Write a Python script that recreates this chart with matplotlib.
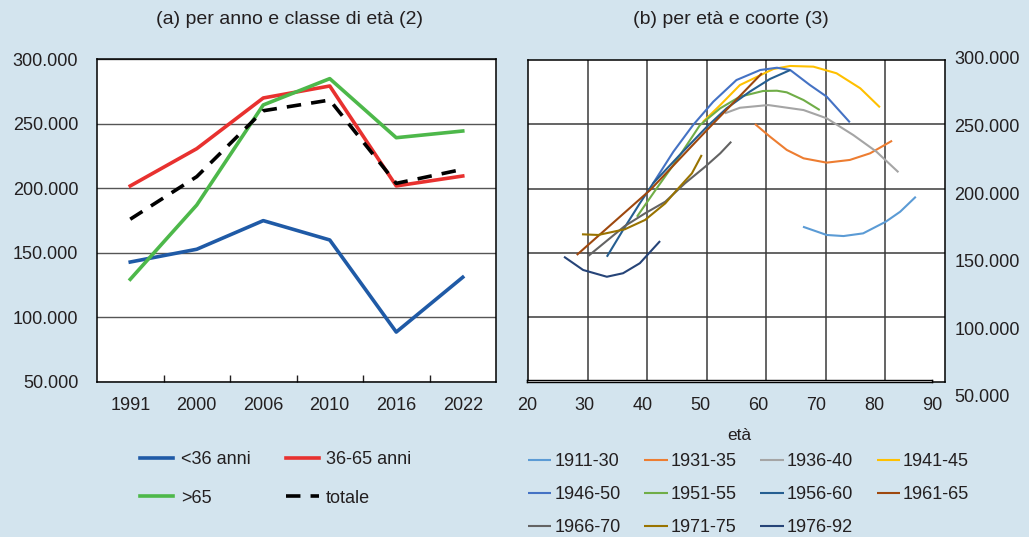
import numpy as np
import matplotlib.pyplot as plt
from matplotlib.ticker import FuncFormatter, FixedLocator

plt.rcParams['font.family'] = ['Liberation Sans', 'DejaVu Sans']
plt.rcParams['text.color'] = '#231f20'
plt.rcParams['xtick.color'] = '#231f20'
plt.rcParams['ytick.color'] = '#231f20'

# (a) per anno e classe di eta'
anni = ['1991', '2000', '2006', '2010', '2016', '2022']
under36 = [142800, 152700, 174900, 159900, 88500, 131000]
da36a65 = [201800, 230700, 270000, 279300, 201800, 209500]
over65 = [129400, 187000, 264600, 285000, 239200, 244400]
totale = [176000, 209000, 260100, 268400, 203800, 214700]

# (b) per eta' e coorte
eta_1911 = [67.7, 71.8, 74.7, 78.1, 82.0, 84.5, 87.2]
val_1911 = [175200, 169100, 168300, 170300, 178900, 186300, 197400]
eta_1931 = [59.4, 62.0, 64.9, 67.8, 71.8, 75.8, 79.3, 83.1]
val_1931 = [251200, 241800, 232000, 225800, 222600, 224600, 229500, 238800]
eta_1936 = [54.2, 56.8, 61.7, 67.8, 71.8, 76.4, 80.4, 84.2]
val_1936 = [259100, 263200, 265200, 261500, 255400, 243000, 230700, 215500]
eta_1941 = [50.4, 53.4, 56.8, 62.6, 65.5, 69.5, 73.5, 77.6, 81.0]
val_1941 = [252700, 265200, 280000, 291900, 294100, 293600, 288700, 277600, 263500]
eta_1946 = [41.8, 45.3, 48.7, 52.2, 56.2, 60.3, 63.2, 65.5, 68.9, 71.8, 75.8]
val_1946 = [207300, 230700, 250400, 267700, 283700, 291100, 292800, 291100, 280000, 271400, 252400]
eta_1951 = [39.0, 42.3, 45.9, 49.9, 53.4, 56.8, 60.8, 63.2, 64.9, 67.8, 70.6]
val_1951 = [182600, 202900, 224600, 250400, 262800, 271400, 275600, 275800, 274600, 268900, 261500]
eta_1956 = [33.8, 36.6, 39.5, 41.8, 46.4, 51.1, 54.5, 58.5, 62.0, 65.5]
val_1956 = [153000, 172800, 192500, 207300, 228300, 249200, 262800, 275100, 284500, 291100]
eta_1961 = [28.6, 33.8, 41.3, 51.1, 60.6]
val_1961 = [154300, 174000, 202400, 246700, 288700]
eta_1966 = [30.6, 36.9, 40.4, 43.9, 47.3, 50.8, 53.4, 55.3]
val_1966 = [153600, 175700, 185100, 193700, 207300, 219600, 229500, 238100]
eta_1971 = [29.5, 32.3, 36.9, 40.4, 43.9, 45.9, 48.5, 50.2]
val_1971 = [169600, 169100, 173300, 180200, 192500, 202400, 214700, 228300]
eta_1976 = [26.4, 29.7, 33.8, 36.6, 39.5, 43.0]
val_1976 = [153000, 143200, 138200, 140800, 148200, 164600]

coorti = ['1911-30', '1931-35', '1936-40', '1941-45', '1946-50', '1951-55',
          '1956-60', '1961-65', '1966-70', '1971-75', '1976-92']
serie_eta = [eta_1911, eta_1931, eta_1936, eta_1941, eta_1946, eta_1951,
             eta_1956, eta_1961, eta_1966, eta_1971, eta_1976]
serie_val = [val_1911, val_1931, val_1936, val_1941, val_1946, val_1951,
             val_1956, val_1961, val_1966, val_1971, val_1976]
colori = ['#5b9bd5', '#ed7d31', '#a5a5a5', '#ffc000', '#4472c4', '#70ad47',
          '#255e91', '#9e480e', '#636363', '#997300', '#264478']

bg = '#d3e4ee'
W, H = 1029, 537


def rect(x0, y0, x1, y1):
    # pixel box (top-left origin) -> figure fraction
    return [x0 / W, 1 - y1 / H, (x1 - x0) / W, (y1 - y0) / H]


def migliaia(v, pos):
    return '{:,.0f}'.format(v).replace(',', '.')


def testo(x, y, s, **kw):
    # text placed in pixels from the top-left corner
    fig.text(x / W, 1 - y / H, s, ha='center', va='center', **kw)


fig = plt.figure(figsize=(W / 100, H / 100), dpi=100)
fig.patch.set_facecolor(bg)

# ---- panel (a)
ax = fig.add_axes(rect(97, 59.3, 496, 381.7))
x = np.arange(len(anni))
l1, = ax.plot(x, under36, color='#1f5aa6', lw=2.6, label='<36 anni', zorder=3)
l2, = ax.plot(x, da36a65, color='#e8312f', lw=2.6, label='36-65 anni', zorder=3)
l3, = ax.plot(x, over65, color='#4db84a', lw=2.6, label='>65', zorder=3)
l4, = ax.plot(x, totale, color='black', lw=2.6, dashes=(4, 2.8), label='totale', zorder=4)
ax.set_xlim(-0.5, len(anni) - 0.5)
ax.set_ylim(50000, 300000)
ax.set_xticks(x)
ax.set_xticklabels(anni)
ax.xaxis.set_minor_locator(FixedLocator(x[:-1] + 0.5))
ax.tick_params(axis='x', which='major', length=0, pad=11, labelsize=13)
ax.tick_params(axis='x', which='minor', direction='in', length=5, width=1)
ax.set_yticks(np.arange(50000, 300001, 50000))
ax.yaxis.set_major_formatter(FuncFormatter(migliaia))
ax.tick_params(axis='y', length=0, pad=13.5, labelsize=13)
ax.grid(axis='y', color='#555555', lw=1)
for s in ax.spines.values():
    s.set_color('black')
    s.set_linewidth(1.1)

testo(290, 20, '(a) per anno e classe di età (2)', fontsize=14)

fig.legend(handles=[l1, l3, l2, l4], loc='upper left', ncol=2,
           bbox_to_anchor=(140 / W, 1 - 451 / H), frameon=False, fontsize=13,
           handlelength=1.85, handletextpad=0.4, columnspacing=1.95,
           labelspacing=1.2, borderaxespad=0, borderpad=0)

# ---- panel (b): griglia
axg = fig.add_axes(rect(528.3, 60, 945, 381.7))
axg.set_xlim(0, 7)
axg.set_ylim(0, 5)
axg.set_xticks(np.arange(1, 7))
axg.set_yticks(np.arange(1, 5))
axg.tick_params(length=0, labelbottom=False, labelleft=False)
axg.grid(True, color='#3a3a3a', lw=1.1)
for s in axg.spines.values():
    s.set_color('black')
    s.set_linewidth(1.1)

# curve per coorte
axc = fig.add_axes(rect(527, 58, 932, 396))
axc.patch.set_alpha(0)
linee = []
for nome, e, v, c in zip(coorti, serie_eta, serie_val, colori):
    ln, = axc.plot(e, v, color=c, lw=1.5, label=nome, solid_capstyle='butt')
    linee.append(ln)
axc.set_xlim(20, 90)
axc.set_ylim(50000, 300000)
axc.set_xticks([])
axc.yaxis.tick_right()
axc.set_yticks(np.arange(50000, 300001, 50000))
axc.yaxis.set_major_formatter(FuncFormatter(migliaia))
axc.tick_params(axis='y', length=0, pad=16, labelsize=13)
for s in axc.spines.values():
    s.set_visible(False)

# asse delle eta'
axx = fig.add_axes(rect(527, 380, 932, 382))
axx.set_xlim(20, 90)
axx.set_yticks([])
axx.set_xticks(np.arange(20, 91, 10))
axx.xaxis.set_minor_locator(FixedLocator(np.arange(30, 81, 10)))
axx.tick_params(axis='x', which='major', length=0, pad=10.5, labelsize=13)
axx.tick_params(axis='x', which='minor', direction='in', length=2, width=1)
for s in axx.spines.values():
    s.set_color('black')
    s.set_linewidth(1)

testo(731, 20, '(b) per età e coorte (3)', fontsize=14)
testo(739, 435, 'età', fontsize=12.5)

ordine = [0, 4, 8, 1, 5, 9, 2, 6, 10, 3, 7]
fig.legend(handles=[linee[i] for i in ordine], loc='upper left', ncol=4,
           bbox_to_anchor=(528 / W, 1 - 453.5 / H), frameon=False, fontsize=13,
           handlelength=1.3, handletextpad=0.15, columnspacing=1.32,
           labelspacing=0.88, borderaxespad=0, borderpad=0)

fig.savefig('out.png', dpi=100, facecolor=bg)
